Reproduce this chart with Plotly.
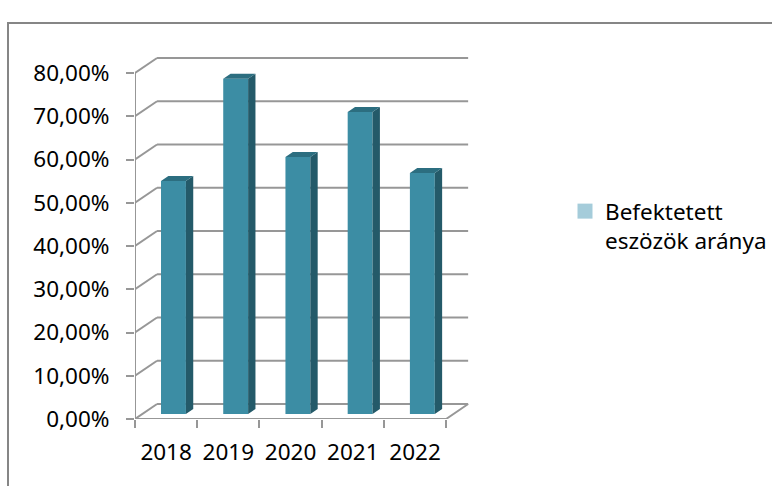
import plotly.graph_objects as go

# ---- data ----
years = ["2018", "2019", "2020", "2021", "2022"]
values = [53.9, 77.5, 59.4, 69.8, 55.7]          # percent
y_ticks = [0, 10, 20, 30, 40, 50, 60, 70, 80]
y_tick_labels = ["0,00%", "10,00%", "20,00%", "30,00%", "40,00%",
                 "50,00%", "60,00%", "70,00%", "80,00%"]
series_name = "Befektetett<br>eszözök aránya"

# ---- style / geometry ----
W, H = 772, 486
ML, MR, MT, MB = 135, 301, 40, 67
XR = [-0.5, 4.9]
YMAX = (H - MT - MB) / 4.325
DX, DY = 0.354, 3.47      # 3D depth offset in data units
BW = 0.4                   # bar width
GRID = "#979797"
FRONT, SIDE, TOP = "#3C8DA4", "#245A69", "#2C6E80"
FONT = "Noto Sans"
FS = 22.5

pos = list(range(len(years)))
n = len(years)
x_left, x_right = -0.5, n - 0.5

fig = go.Figure()

# walls / floor lines (base axes, drawn beneath)
wx, wy = [], []
for v in y_ticks:
    wx += [x_left + DX, x_right + DX, None]
    wy += [v + DY, v + DY, None]
    wx += [x_left, x_left + DX, None]
    wy += [v, v + DY, None]
wx += [x_left, x_right, x_right + DX, None]
wy += [0, 0, DY, None]
wx += [x_left, x_left, None]
wy += [0, y_ticks[-1], None]
fig.add_trace(go.Scatter(x=wx, y=wy, mode="lines",
                         line=dict(color=GRID, width=2),
                         hoverinfo="skip", showlegend=False))

# bars on overlaid axes (drawn above the walls)
base = DY / 3
fig.add_trace(go.Bar(x=[p + DX / 3 for p in pos], y=values, base=base,
                     width=BW, marker=dict(color=FRONT, line=dict(width=0)),
                     showlegend=False, hoverinfo="skip",
                     xaxis="x2", yaxis="y2"))

sx, sy, tx, ty = [], [], [], []
for p, v in zip(pos, values):
    xf = p + DX / 3
    xr = xf + BW / 2
    xl = xf - BW / 2
    top = base + v
    sx += [xr, xr, xr + DX / 3, xr + DX / 3, xr, None]
    sy += [base, top, top + DY / 3, base + DY / 3, base, None]
    tx += [xl, xr, xr + DX / 3, xl + DX / 3, xl, None]
    ty += [top, top, top + DY / 3, top + DY / 3, top, None]
fig.add_trace(go.Scatter(x=sx, y=sy, mode="lines", fill="toself",
                         fillcolor=SIDE, line=dict(width=0, color=SIDE),
                         hoverinfo="skip", showlegend=False,
                         xaxis="x2", yaxis="y2"))
fig.add_trace(go.Scatter(x=tx, y=ty, mode="lines", fill="toself",
                         fillcolor=TOP, line=dict(width=0, color=TOP),
                         hoverinfo="skip", showlegend=False,
                         xaxis="x2", yaxis="y2"))

# legend entry
fig.add_trace(go.Scatter(x=[None], y=[None], mode="markers", name=series_name,
                         marker=dict(symbol="square", size=15, color="#A5CCDA")))

# outer frame (pixel -> paper)
pw, ph = W - ML - MR, H - MT - MB
def px(x): return (x - ML) / pw
def py(y): return (H - MB - y) / ph
fig.add_shape(type="path", xref="paper", yref="paper",
              path=f"M {px(8)},{py(487)} L {px(8)},{py(23)} L {px(773)},{py(23)}",
              line=dict(color="#868686", width=2))

hidden = dict(showgrid=False, zeroline=False, showline=False,
              showticklabels=False, ticks="")
fig.update_layout(
    width=W, height=H,
    margin=dict(l=ML, r=MR, t=MT, b=MB, autoexpand=False),
    paper_bgcolor="white", plot_bgcolor="rgba(0,0,0,0)",
    font=dict(family=FONT, size=FS, color="#000000"),
    barmode="overlay",
    showlegend=True,
    legend=dict(x=px(565), y=py(190), xanchor="left", yanchor="top",
                valign="top", font=dict(size=FS), bgcolor="rgba(0,0,0,0)"),
    xaxis=dict(range=XR, tickmode="array", tickvals=pos, ticktext=years,
               ticks="", showgrid=False, zeroline=False, showline=False,
               minor=dict(ticks="outside", tick0=-0.5, dtick=1, ticklen=8,
                          tickwidth=2, tickcolor=GRID, showgrid=False),
               ticklabelstandoff=17, automargin=False),
    yaxis=dict(range=[0, YMAX], tickmode="array", tickvals=y_ticks,
               ticktext=y_tick_labels, ticks="outside", ticklen=8,
               tickwidth=2, tickcolor=GRID, showgrid=False, zeroline=False,
               showline=False, ticklabelstandoff=12, automargin=False),
    xaxis2=dict(range=XR, overlaying="x", anchor="y2", **hidden),
    yaxis2=dict(range=[0, YMAX], overlaying="y", anchor="x2", **hidden),
)

fig.write_html("out.html")
